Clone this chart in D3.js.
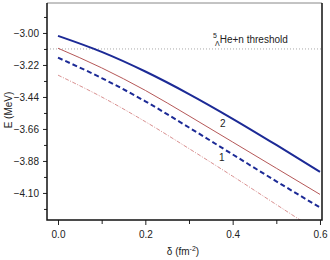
<!DOCTYPE html>
<html>
<head>
<meta charset="utf-8">
<script src="https://cdn.jsdelivr.net/npm/d3@7"></script>
<style>
  body { margin: 0; background: #fff; }
  svg text { font-family: "Liberation Sans", Arial, sans-serif; fill: #222; }
</style>
</head>
<body>
<svg id="chart" width="330" height="260"></svg>
<script>
// data
let delta = [0, 0.1, 0.2, 0.3, 0.4, 0.5, 0.6];
let solidBlue = [-3.02, -3.13, -3.265, -3.42, -3.59, -3.77, -3.955];
let thinRed = [-3.105, -3.24, -3.395, -3.57, -3.75, -3.93, -4.11];
let dashBlue = [-3.17, -3.31, -3.47, -3.65, -3.835, -4.02, -4.20];
let dashDotRed = [-3.29, -3.44, -3.61, -3.795, -3.985, -4.18, -4.375];
let threshold = -3.11;
let xTicks = [0, 0.2, 0.4, 0.6];
let xMinor = [0.1, 0.3, 0.5];
let yTicks = [-3.00, -3.22, -3.44, -3.66, -3.88, -4.10];
let yMinor = [-2.89, -3.11, -3.33, -3.55, -3.77, -3.99, -4.21];

let svg = d3.select('#chart');
let margin = {left: 47, top: 3, right: 8, bottom: 40};
let width = 330, height = 260;

// scales
let x = d3.scaleLinear().domain([-0.0252, 0.6046]).range([margin.left, width - margin.right]);
let y = d3.scaleLinear().domain([-4.286, -2.794]).range([height - margin.bottom, margin.top]);

// clip to plot box
svg.append('clipPath').attr('id', 'clip')
    .append('rect')
    .attr('x', x.range()[0]).attr('y', y.range()[1])
    .attr('width', x.range()[1] - x.range()[0])
    .attr('height', y.range()[0] - y.range()[1]);

let g = svg.append('g').attr('clip-path', 'url(#clip)');

// threshold line
g.append('line')
    .attr('x1', x.range()[0]).attr('x2', x.range()[1])
    .attr('y1', y(threshold)).attr('y2', y(threshold))
    .attr('stroke', '#aaa').attr('stroke-width', 1)
    .attr('stroke-dasharray', '1,2');

let line = d3.line().curve(d3.curveMonotoneX);
function drawSeries(vals, color, w, dash) {
    g.append('path')
        .datum(delta.map((d, i) => [x(d), y(vals[i])]))
        .attr('d', line)
        .attr('fill', 'none')
        .attr('stroke', color)
        .attr('stroke-width', w)
        .attr('stroke-dasharray', dash);
}
drawSeries(dashDotRed, '#d99090', 1, '4,1.5,1,1.5');
drawSeries(thinRed, '#b55858', 1, null);
drawSeries(dashBlue, '#1c2a96', 2, '5,3');
drawSeries(solidBlue, '#1c2a96', 2, null);

// axes
svg.append('g')
    .attr('transform', 'translate(0,' + y.range()[0] + ')')
    .call(d3.axisBottom(x).tickValues(xTicks).tickFormat(d3.format('.1f')).tickSize(5).tickPadding(6));
svg.append('g')
    .attr('transform', 'translate(0,' + y.range()[0] + ')')
    .call(d3.axisBottom(x).tickValues(xMinor).tickFormat('').tickSize(4));
svg.append('g')
    .attr('transform', 'translate(' + x.range()[0] + ',0)')
    .call(d3.axisLeft(y).tickValues(yTicks).tickFormat(d3.format('.2f')).tickSize(4).tickPadding(4));
svg.append('g')
    .attr('transform', 'translate(' + x.range()[0] + ',0)')
    .call(d3.axisLeft(y).tickValues(yMinor.filter(v => v > y.domain()[0] && v < y.domain()[1])).tickFormat('').tickSize(3));

svg.selectAll('.domain').remove();
svg.selectAll('.tick line').attr('stroke', '#222');
svg.selectAll('.tick text').style('font-size', '10px').attr('fill', '#222');

// frame: top thin gray, others black
let x0 = x.range()[0], x1 = x.range()[1], yb = y.range()[0], yt = y.range()[1];
svg.append('line').attr('x1', x0).attr('x2', x1).attr('y1', yt).attr('y2', yt)
    .attr('stroke', '#888').attr('stroke-width', 1);
svg.append('path')
    .attr('d', 'M' + x0 + ',' + yt + 'V' + yb + 'H' + x1 + 'V' + yt)
    .attr('fill', 'none').attr('stroke', '#111').attr('stroke-width', 1.5);

// axis titles
let xt = svg.append('text')
    .attr('x', 183).attr('y', 255)
    .attr('text-anchor', 'middle')
    .style('font-size', '10px');
xt.append('tspan').text('δ (fm');
xt.append('tspan').attr('dy', -4).style('font-size', '7px').text('-2');
xt.append('tspan').attr('dy', 4).text(')');

svg.append('text')
    .attr('transform', 'translate(12,110) rotate(-90)')
    .attr('text-anchor', 'middle')
    .style('font-size', '10px')
    .text('E (MeV)');

// threshold label
let tl = svg.append('text').attr('x', 213).attr('y', 43).style('font-size', '10px');
tl.append('tspan').attr('dy', -5).style('font-size', '7px').text('5');
tl.append('tspan').attr('x', 215).attr('dy', 8).style('font-size', '7px').text('Λ');
tl.append('tspan').attr('dy', -3).text('He+n threshold');

// curve labels
svg.append('text').attr('x', 220).attr('y', 127).style('font-size', '10px').text('2');
svg.append('text').attr('x', 219).attr('y', 161).style('font-size', '10px').text('1');
</script>
</body>
</html>
